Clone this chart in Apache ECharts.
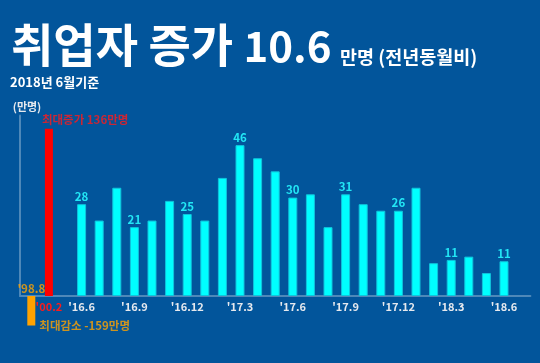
<!DOCTYPE html>
<html><head><meta charset="utf-8">
<script src="https://cdn.jsdelivr.net/npm/echarts@6/dist/echarts.min.js"></script>
<style>html,body{margin:0;padding:0;background:#02559b}#c{width:540px;height:363px}</style>
</head><body><div id="c"></div>
<script>
// ---- data ----
const extremeCats = ["'98.8", "'00.2"];
const extremeDrawn = [-9, 51];            // drawn (truncated) heights
const extremeNotes = ['최대감소 -159만명', '최대증가 136만명'];
const monthCats = ["'16.6","'16.7","'16.8","'16.9","'16.10","'16.11","'16.12",
  "'17.1","'17.2","'17.3","'17.4","'17.5","'17.6","'17.7","'17.8","'17.9","'17.10","'17.11","'17.12",
  "'18.1","'18.2","'18.3","'18.4","'18.5","'18.6"];
const monthValues = [28,23,33,21,23,29,25,23,36,46,42,38,30,31,21,31,28,26,26,33,10,11,12,7,10.6];
const tickLabels = ["'16.6","'16.9","'16.12","'17.3","'17.6","'17.9","'17.12","'18.3","'18.6"];
const yName = '(만명)';

// ---- build ----
const FONT = 'Noto Sans CJK KR';
const allCats = [...extremeCats, ' ', ...monthCats, '  '];
const monthData = allCats.map(c => { const i = monthCats.indexOf(c); return i >= 0 ? monthValues[i] : null; });
const extremeColors = ['#ffa200', '#ff0000'];
const extremeData = allCats.map(c => { const i = extremeCats.indexOf(c); return i >= 0 ? {value: extremeDrawn[i], itemStyle:{color: extremeColors[i]}} : null; });

const slot = 17.6, nSlots = allCats.length;
const gridCommon = {top: 115.6, height: 180.4, width: slot * nSlots, containLabel: false, outerBoundsMode: 'none'};

const chart = echarts.init(document.getElementById('c'), null, {renderer: 'canvas'});
chart.setOption({
  backgroundColor: '#02559b',
  animation: false,
  title: [
    {text: '{h|취업자 증가 }{n|10.6}', left: 11, top: 22, padding: 0,
     textStyle: {color: '#fff', fontWeight: 'bold', fontFamily: FONT,
       rich: {
         h: {fontSize: 46, lineHeight: 46, verticalAlign: 'bottom', color: '#fff', fontWeight: 'bold', fontFamily: FONT},
         n: {fontSize: 42, lineHeight: 46, verticalAlign: 'bottom', color: '#fff', fontWeight: 'bold', fontFamily: FONT, padding: [0,0,1,0]}
       }}},
    {text: '만명 (전년동월비)', left: 340, top: 48, padding: 0,
     textStyle: {color: '#fff', fontSize: 18.5, fontWeight: 'bold', fontFamily: FONT}},
    {text: '2018년 6월기준', left: 10, top: 76, padding: 0,
     textStyle: {color: '#fff', fontSize: 13, fontWeight: 'bold', fontFamily: FONT}}
  ],
  grid: [Object.assign({left: 20}, gridCommon), Object.assign({left: 22.5}, gridCommon)],
  xAxis: [
    {type: 'category', gridIndex: 0, data: allCats,
     axisLine: {show: true, lineStyle: {color: '#4e88b9', width: 2}},
     axisTick: {show: false},
     axisLabel: {interval: (i, v) => tickLabels.includes(v), margin: 5, color: '#e6e9ee',
                 fontSize: 11, fontWeight: 'bold', fontFamily: FONT}},
    {type: 'category', gridIndex: 1, data: allCats,
     axisLine: {show: false}, axisTick: {show: false},
     axisLabel: {interval: (i, v) => v === extremeCats[1], margin: 5, color: '#ff1a1a',
                 fontSize: 11, fontWeight: 'bold', fontFamily: FONT}}
  ],
  yAxis: [
    {type: 'value', gridIndex: 0, min: 0, max: 55, name: yName, nameLocation: 'end', nameGap: 3,
     nameTextStyle: {color: '#e6e9ee', fontSize: 11, fontWeight: 'bold', fontFamily: FONT, padding: [0,0,0,14]},
     axisLine: {show: true, lineStyle: {color: '#4e88b9', width: 2}},
     axisTick: {show: false}, axisLabel: {show: false}, splitLine: {show: false}},
    {type: 'value', gridIndex: 1, min: 0, max: 55, show: false, splitLine: {show: false}}
  ],
  series: [
    {type: 'bar', xAxisIndex: 0, yAxisIndex: 0, data: monthData, barWidth: 9,
     itemStyle: {color: '#00ffff', borderColor: '#10c4dc', borderWidth: 1},
     label: {show: true, position: 'top', distance: 2, color: '#22e6f5', fontSize: 11.5,
             fontWeight: 'bold', fontFamily: FONT,
             formatter: p => tickLabels.includes(p.name) ? String(Math.round(p.value)) : ''}},
    {type: 'bar', xAxisIndex: 1, yAxisIndex: 1, data: extremeData, barWidth: 8, clip: false},
    {type: 'scatter', xAxisIndex: 1, yAxisIndex: 1, symbolSize: 0, clip: false, silent: true,
     data: [
       {value: [extremeCats[0], 0], label: {show: true, position: 'top', distance: 2,
         formatter: extremeCats[0], color: '#ffa200'}},
       {value: [extremeCats[0], extremeDrawn[0]], label: {show: true, position: 'right', distance: 8,
         formatter: extremeNotes[0], color: '#ffa200'}},
       {value: [extremeCats[1], extremeDrawn[1]], label: {show: true, position: 'top', distance: 3,
         align: 'left', offset: [-7, 0], formatter: extremeNotes[1], color: '#ff1a1a'}}
     ],
     label: {fontSize: 11.5, fontWeight: 'bold', fontFamily: FONT}}
  ]
});
</script></body></html>
